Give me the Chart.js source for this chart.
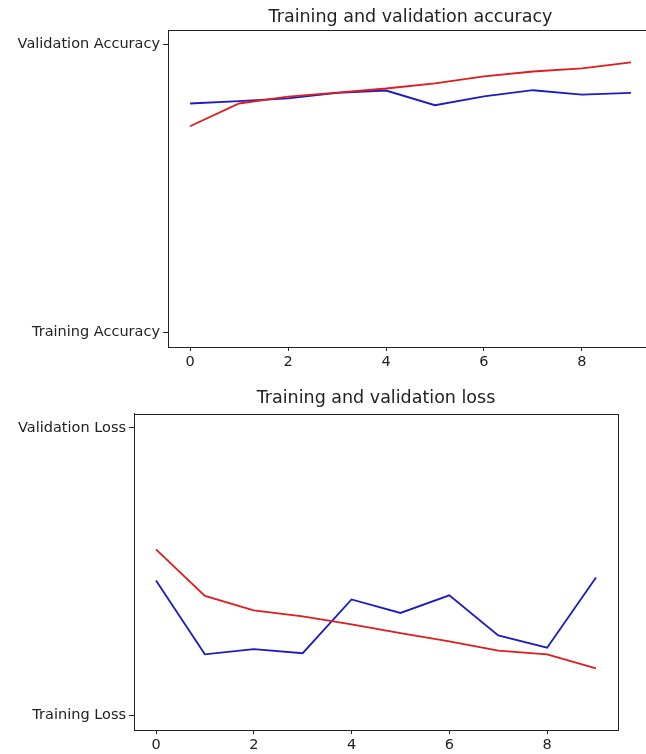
<!DOCTYPE html>
<html>
<head>
<meta charset="utf-8">
<script src="https://cdn.jsdelivr.net/npm/chart.js@4.4.1/dist/chart.umd.min.js"></script>
<style>
  html, body { margin: 0; padding: 0; background: #fff; overflow: hidden; }
  #wrap { position: relative; width: 646px; height: 754px; overflow: hidden; }
  canvas { position: absolute; left: 0; }
  #acc { top: 0; }
  #loss { top: 380px; }
</style>
</head>
<body>
<div id="wrap">
  <canvas id="acc" width="680" height="373"></canvas>
  <canvas id="loss" width="646" height="376"></canvas>
</div>
<script>
// datos
const epochs = [0, 1, 2, 3, 4, 5, 6, 7, 8, 9];
const xTicks = [0, 2, 4, 6, 8];

const trainAcc = [0.716, 0.795, 0.819, 0.833, 0.847, 0.865, 0.889, 0.906, 0.917, 0.938];
const valAcc = [0.795, 0.803, 0.813, 0.832, 0.840, 0.789, 0.820, 0.841, 0.826, 0.832];
const accTickLabels = ["Training Accuracy", "Validation Accuracy"];

const trainLoss = [0.578, 0.416, 0.366, 0.345, 0.317, 0.287, 0.258, 0.226, 0.213, 0.164];
const valLoss = [0.470, 0.213, 0.231, 0.217, 0.404, 0.357, 0.418, 0.279, 0.236, 0.480];
const lossTickLabels = ["Training Loss", "Validation Loss"];

const FONT = "'DejaVu Sans', sans-serif";
const INK = "#222";

// caja completa alrededor del area (estilo matplotlib)
const boxPlugin = {
  id: "box",
  afterDraw(chart) {
    const a = chart.chartArea, ctx = chart.ctx;
    ctx.save();
    ctx.strokeStyle = INK;
    ctx.lineWidth = 1;
    ctx.strokeRect(Math.round(a.left) + 0.5, Math.round(a.top) + 0.5,
      Math.round(a.right - a.left), Math.round(a.bottom - a.top));
    ctx.restore();
  }
};

const pts = vals => vals.map((v, i) => ({ x: epochs[i], y: v }));

function makeChart(id, title, train, val, labels, yWidth, padRight, titlePad) {
  return new Chart(document.getElementById(id), {
    type: "line",
    data: {
      datasets: [
        { data: pts(train), borderColor: "#e01c1c", borderWidth: 1.8, pointRadius: 0, tension: 0 },
        { data: pts(val), borderColor: "#1c1cc4", borderWidth: 1.8, pointRadius: 0, tension: 0 }
      ]
    },
    options: {
      responsive: false,
      animation: false,
      layout: { padding: { left: 0, right: padRight, top: 0, bottom: 0 } },
      plugins: {
        legend: { display: false },
        tooltip: { enabled: false },
        title: {
          display: true, text: title, color: INK, fullSize: false,
          font: { family: FONT, size: 17.5, weight: "normal" },
          padding: titlePad
        }
      },
      scales: {
        x: {
          type: "linear", min: -0.45, max: 9.45,
          afterBuildTicks: s => { s.ticks = xTicks.map(v => ({ value: v })); },
          afterFit: s => { s.height = 26; },
          grid: { drawOnChartArea: false, tickLength: 4, color: INK },
          border: { display: true, color: INK },
          ticks: { color: INK, font: { family: FONT, size: 14.5 }, padding: 3, maxRotation: 0 }
        },
        y: {
          type: "linear", min: -0.05, max: 1.05,
          afterBuildTicks: s => { s.ticks = [0, 1].map(v => ({ value: v })); },
          afterFit: s => { s.width = yWidth; },
          grid: { drawOnChartArea: false, tickLength: 5, color: INK },
          border: { display: true, color: INK },
          ticks: {
            color: INK, font: { family: FONT, size: 14.5 }, padding: 3,
            callback: v => labels[v]
          }
        }
      }
    },
    plugins: [boxPlugin]
  });
}

makeChart("acc", "Training and validation accuracy", trainAcc, valAcc, accTickLabels,
  168, 27, { top: 6.5, bottom: 2.5 });
makeChart("loss", "Training and validation loss", trainLoss, valLoss, lossTickLabels,
  134, 28, { top: 7.5, bottom: 5.1 });
</script>
</body>
</html>
